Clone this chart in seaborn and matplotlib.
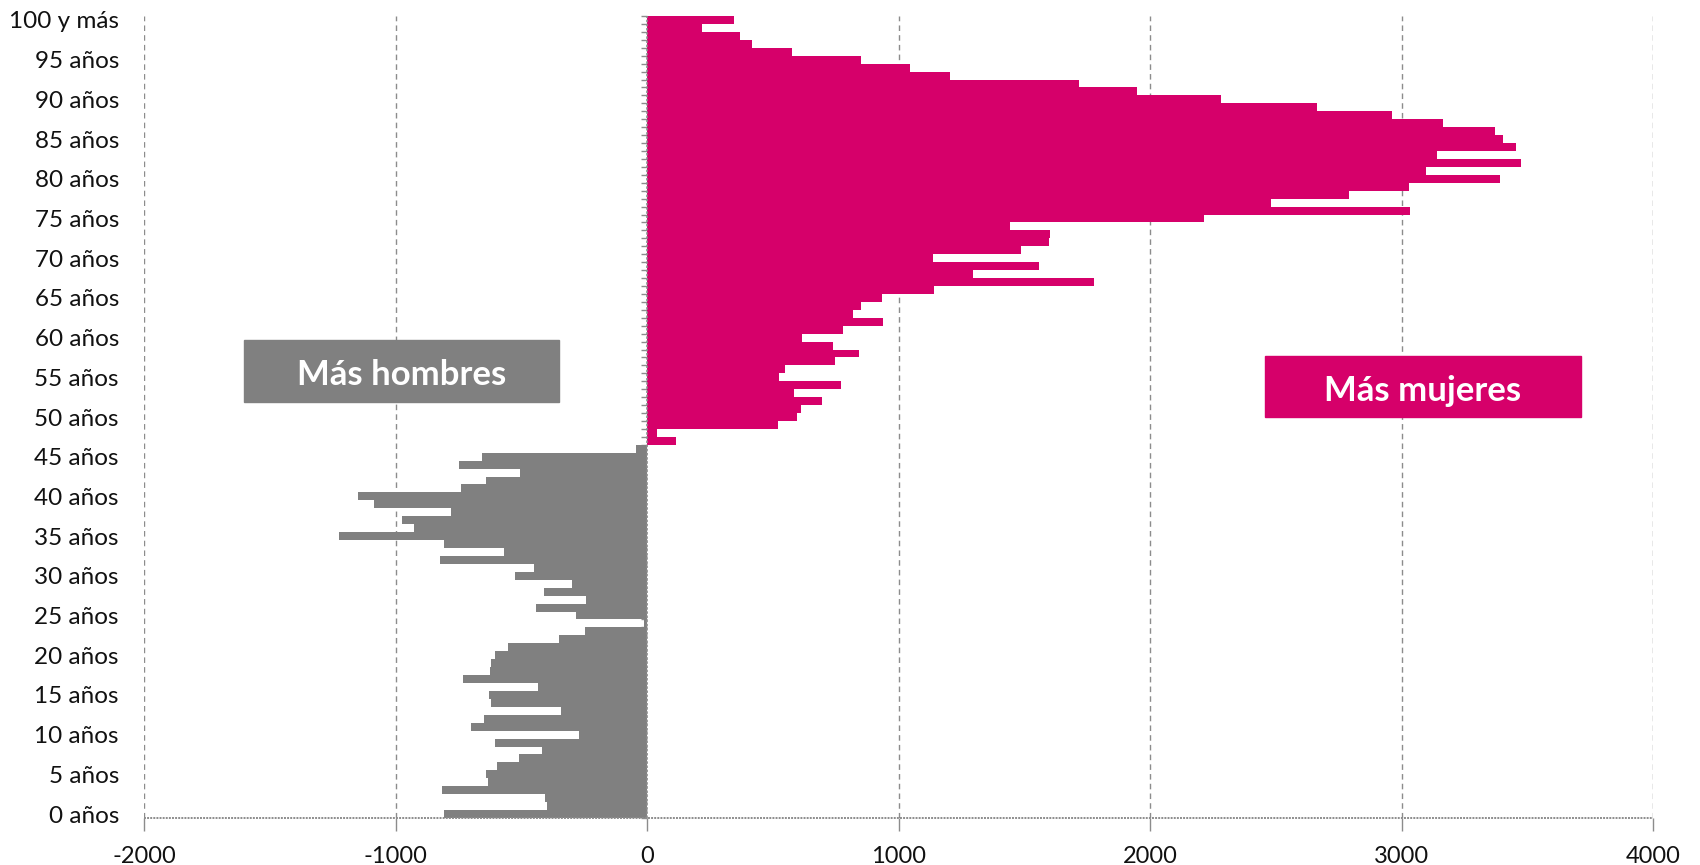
import numpy as np
import pandas as pd
import seaborn as sns
import matplotlib.pyplot as plt
from matplotlib.patches import Rectangle

# edades simples 0..100 y diferencia mujeres - hombres
edades = list(range(101))
diferencia = [
    -806, -397, -405, -815, -634, -642, -595, -509, -418, -603,   # 0-9
    -272, -698, -647, -341, -621, -629, -435, -733, -625, -621,   # 10-19
    -603, -552, -349, -246, -10, -284, -440, -241, -409, -297,    # 20-29
    -526, -448, -823, -569, -806, -1224, -927, -974, -780, -1086, # 30-39
    -1151, -741, -642, -504, -746, -655, -43, 116, 39, 522,       # 40-49
    595, 612, 694, 586, 772, 526, 547, 746, 841, 741,             # 50-59
    616, 780, 940, 819, 849, 935, 1142, 1776, 1297, 1560,         # 60-69
    1138, 1487, 1599, 1603, 1444, 2216, 3034, 2483, 2793, 3030,   # 70-79
    3392, 3099, 3474, 3142, 3457, 3405, 3371, 3164, 2961, 2664,   # 80-89
    2284, 1948, 1716, 1203, 1047, 849, 578, 418, 371, 220,        # 90-99
    345,                                                          # 100 y más
]
etiquetas_edad = [f"{e} años" for e in range(0, 100, 5)] + ["100 y más"]
ticks_x = [-2000, -1000, 0, 1000, 2000, 3000, 4000]

MAGENTA = "#D6006A"
GRIS = "#808080"

df = pd.DataFrame({"edad": edades, "dif": diferencia})
df["grupo"] = np.where(df["dif"] > 0, "Más mujeres", "Más hombres")

sns.set_theme(style="white")
plt.rcParams["font.family"] = ["Lato", "DejaVu Sans"]

fig = plt.figure(figsize=(17, 8.65), dpi=100)
ax = fig.add_axes([144 / 1700, 1 - 818 / 865, (1653 - 144) / 1700, (818 - 16) / 865])

sns.barplot(data=df, x="dif", y="edad", hue="grupo", orient="h", native_scale=True,
            palette={"Más mujeres": MAGENTA, "Más hombres": GRIS}, dodge=False,
            width=1.0, linewidth=0, saturation=1, legend=False, ax=ax)

ax.set_xlim(-2000, 4000)
ax.set_ylim(-0.5, 100.5)
ax.set_xlabel("")
ax.set_ylabel("")

# grid vertical discontinuo
for t in ticks_x:
    if t == 0:
        continue
    ax.axvline(t, color="#8c8c8c", lw=1.0, ls=(0, (4, 3)), zorder=0)
ax.axvline(0, color="#8c8c8c", lw=1.2, ls=(0, (1.5, 1)), zorder=3)
ax.axhline(-0.5, color="#8c8c8c", lw=1.4, ls=(0, (1, 0.6)), zorder=3, clip_on=False)

for s in ax.spines.values():
    s.set_visible(False)

ax.set_yticks(list(range(0, 101, 5)))
ax.set_yticklabels(etiquetas_edad)
ax.set_xticks(ticks_x)
ax.set_xticklabels([str(t) for t in ticks_x])
ax.tick_params(axis="y", length=0, pad=18, labelsize=17.5, labelcolor="#111111")
ax.tick_params(axis="x", length=9, width=1, color="#8c8c8c", pad=11,
               labelsize=17, labelcolor="#111111", bottom=True)

# marcas pequeñas sobre el eje en x = 0
sec = ax.secondary_yaxis(1 / 3)
sec.set_yticks(np.arange(-0.5, 101, 1.0))
sec.set_yticklabels([])
sec.tick_params(axis="y", length=4, width=1, color="#8c8c8c", direction="out")
sec.spines["left"].set_visible(False)

# recuadros
fig.patches.append(Rectangle((244 / 1700, 1 - 402 / 865), 315 / 1700, 62 / 865,
                             transform=fig.transFigure, color=GRIS, zorder=5))
fig.patches.append(Rectangle((1265 / 1700, 1 - 417 / 865), 316 / 1700, 61 / 865,
                             transform=fig.transFigure, color=MAGENTA, zorder=5))
fig.text(401.5 / 1700, 1 - 375 / 865, "Más hombres", color="white", fontsize=25,
         fontweight="bold", ha="center", va="center", zorder=6)
fig.text(1423 / 1700, 1 - 391 / 865, "Más mujeres", color="white", fontsize=25,
         fontweight="bold", ha="center", va="center", zorder=6)

fig.savefig("out.png", dpi=100)
